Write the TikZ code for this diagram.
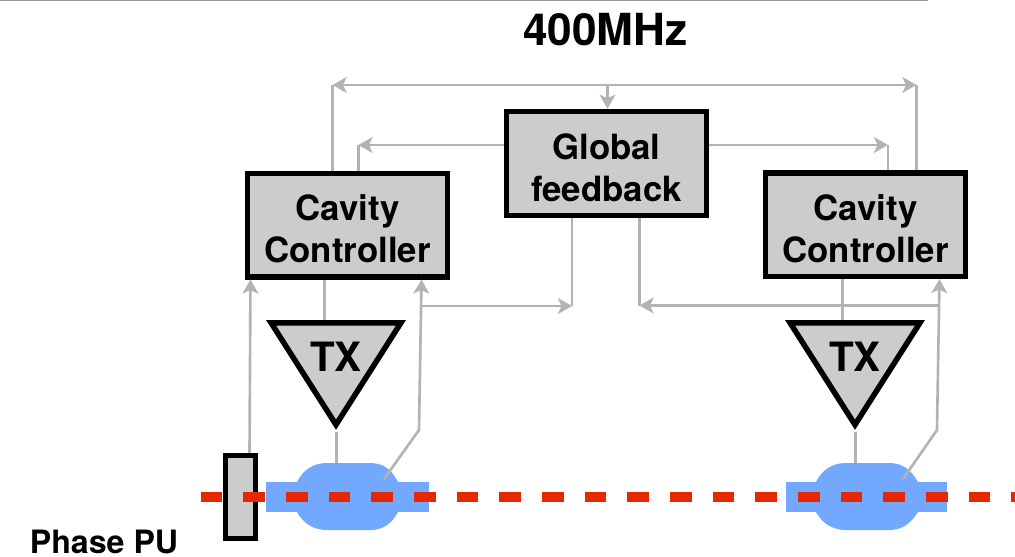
\documentclass[tikz,border=0pt]{standalone}
\usepackage{fontspec}
\setmainfont{TeX Gyre Heros}
\usepackage{xcolor}
\usepackage{tikz}
\usetikzlibrary{arrows.meta,shapes.geometric}
\definecolor{boxgray}{HTML}{CCCCCC}
\definecolor{wiregray}{HTML}{B3B3B3}
\definecolor{cavblue}{HTML}{73A8FF}
\definecolor{beamred}{HTML}{E52800}

\begin{document}
\begin{tikzpicture}[
  x=0.02cm,y=-0.02cm,
  box/.style={draw=black,line width=0.11cm,fill=boxgray,align=center,inner sep=0pt,
              minimum width=4cm,minimum height=2.07cm,text height=43.2pt,
              font=\fontsize{19.8}{24}\selectfont\bfseries},
  txbox/.style={isosceles triangle,isosceles triangle stretches,shape border rotate=-90,
              draw=black,line width=0.11cm,fill=boxgray,inner sep=0pt,anchor=lower side,
              minimum width=2.6cm,minimum height=2.04cm},
  txtext/.style={font=\fontsize{23}{26}\selectfont\bfseries,inner sep=0pt},
  wire/.style={wiregray,line width=1.5pt},
  arrow/.style={wire,-{Stealth[length=8pt,width=9pt,inset=2pt]}},
  both/.style={wire,{Stealth[length=8pt,width=9pt,inset=2pt]}-{Stealth[length=8pt,width=9pt,inset=2pt]}},
  pipe/.style={fill=cavblue,inner sep=0pt,minimum height=0.6cm},
  title/.style={font=\fontsize{25.15}{30}\selectfont\bfseries,inner sep=0pt}
]
\useasboundingbox (0,0) rectangle (1015,556);
\draw[gray!80,line width=1pt] (0,0.5) -- (928,0.5);
\node[title] (freq) at (605.5,30) {400MHz};
\node[title,font=\fontsize{18.3}{20}\selectfont\bfseries,anchor=west] (pulabel) at (29.5,542) {Phase PU};
% cavities
\node[pipe,minimum width=3.26cm] (pipeL) at (347.5,497) {};
\node[pipe,minimum width=3.22cm] (pipeR) at (866.5,497) {};
\fill[cavblue] (296,497) -- (297,482) .. controls (303,470) and (313,463) .. (327,463) -- (370,463)
  .. controls (384,463) and (392,470) .. (398,482) -- (398,512) .. controls (392,523) and (384,530) .. (370,530)
  -- (327,530) .. controls (313,530) and (303,523) .. (297,512) -- cycle;
\fill[cavblue] (815,497) -- (816,482) .. controls (822,470) and (832,463) .. (846,463) -- (889,463)
  .. controls (903,463) and (911,470) .. (918,482) -- (918,512) .. controls (911,523) and (903,530) .. (889,530)
  -- (846,530) .. controls (832,530) and (822,523) .. (816,512) -- cycle;
% blocks
\node[box] (ctrlL) at (347.5,225) {Cavity\\Controller};
\node[box] (ctrlR) at (865.5,224.5) {Cavity\\Controller};
\node[box,minimum height=2.08cm] (glob) at (606.5,163.5) {Global\\feedback};
\node[txbox] (txL) at (336,320) {};
\node[txbox] (txR) at (855,320) {};
\node[txtext] (txtL) at (336,357) {TX};
\node[txtext] (txtR) at (855,357) {TX};
\node[draw=black,line width=0.11cm,fill=boxgray,inner sep=0pt,minimum width=0.6cm,minimum height=1.66cm] (pu) at (240.5,497) {};
% junctions
\coordinate (topL) at (332.5,85);
\coordinate (topM) at (607.5,85);
\coordinate (topR) at (916.5,85);
\coordinate (midL) at (358.5,145);
\coordinate (midR) at (888,145);
\coordinate (sumL) at (572,306);
\coordinate (sumR) at (639.5,305.5);
\coordinate (bendL) at (419,430);
\coordinate (bendR) at (937,430);
\coordinate (probeL) at (384,479);
\coordinate (probeR) at (903,479);
\coordinate (inL) at (421.5,306);
\coordinate (inR) at (939.5,305.5);
\coordinate (cavL) at (336.5,463);
\coordinate (cavR) at (855.5,463);
% connectors
\draw[both] (topL) -- (topR);
\draw[wire] (ctrlL.north -| topL) -- (topL);
\draw[wire] (ctrlR.north -| topR) -- (topR);
\draw[arrow] (topM) -- (glob.north -| topM);
\draw[arrow] (glob.west |- midL) -- (midL);
\draw[arrow] (glob.east |- midR) -- (midR);
\draw[wire] (ctrlL.north -| midL) -- (midL);
\draw[wire] (ctrlR.north -| midR) -- (midR);
\draw[wire] (glob.south -| sumL) -- (sumL);
\draw[wire] (glob.south -| sumR) -- (sumR);
\draw[arrow] (inL) -- (sumL);
\draw[arrow] (inR) -- (sumR);
\draw[arrow] (probeL) -- (bendL) -- (ctrlL.south -| inL);
\draw[arrow] (probeR) -- (bendR) -- (ctrlR.south -| inR);
\draw[arrow] (pu.north -| 249.5,0) -- (ctrlL.south -| 250.5,0);
\draw[wire] (ctrlL.south -| 324.5,0) -- (txL.lower side -| 324.5,0);
\draw[wire] (ctrlR.south -| 842.5,0) -- (txR.lower side -| 842.5,0);
\draw[wire] (txL.apex -| cavL) -- (cavL);
\draw[wire] (txR.apex -| cavR) -- (cavR);
% beam
\draw[beamred,line width=6.07pt,dash pattern=on 12.35pt off 11.93pt] (200.7,497) -- (1015,497);
\end{tikzpicture}
\end{document}
